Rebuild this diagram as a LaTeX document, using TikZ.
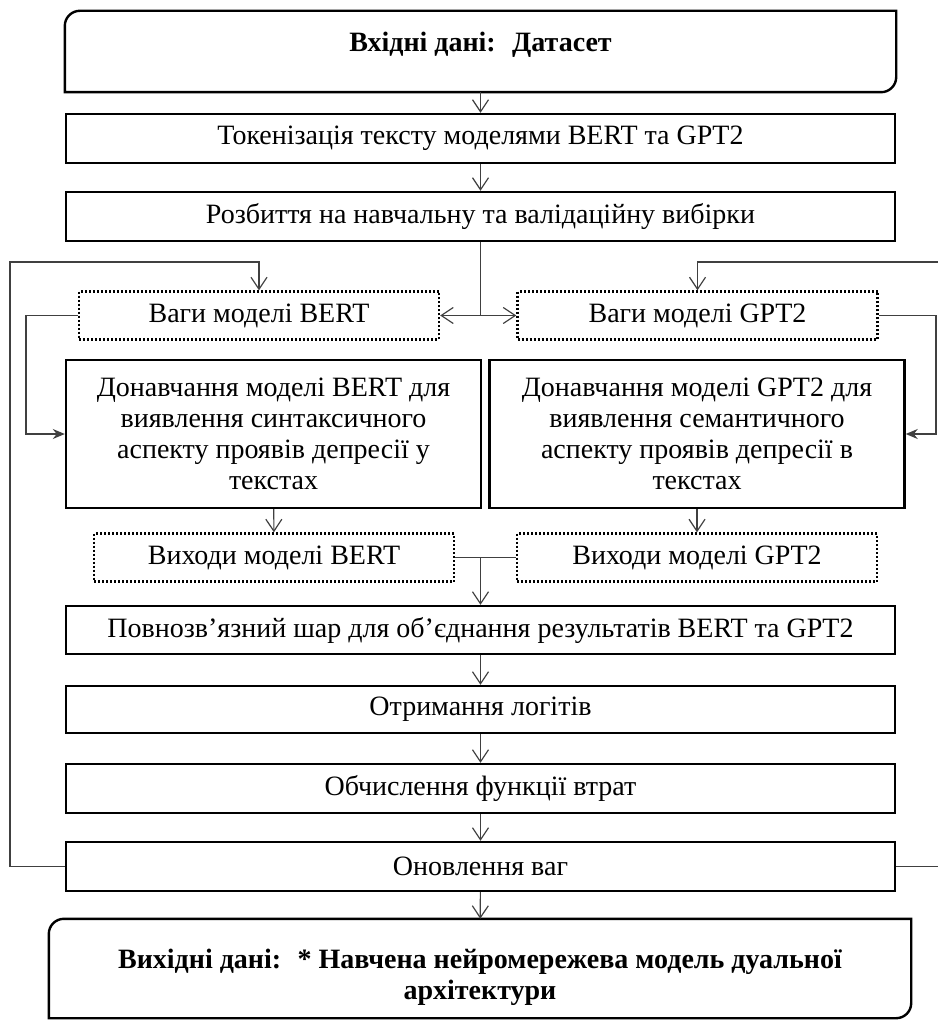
\documentclass[tikz,border=0pt]{standalone}
\usepackage{fontspec}
\setmainfont{Liberation Serif}
\usetikzlibrary{arrows.meta, positioning, calc}

\begin{document}
\begin{tikzpicture}[
    x=0.5pt, y=-0.5pt,
    blk/.style={draw=black, line width=1.2pt, inner sep=0pt, align=center,
        font=\fontsize{14}{15.5}\selectfont},
    wide/.style={blk, minimum width=414.5pt, minimum height=24.5pt},
    half/.style={blk, minimum width=180pt, minimum height=24pt},
    dblk/.style={half, dash pattern=on 1pt off 1pt},
    tune/.style={blk, minimum width=207.5pt, minimum height=74pt},
    ioblk/.style={blk, draw=none, font=\fontsize{14}{15.5}\selectfont\bfseries},
    arr/.style={-{Straight Barb[length=6pt, width=8pt]}, draw=black!75, line width=0.6pt},
    farr/.style={-{Stealth[length=6pt, width=5pt]}, draw=black!75, line width=0.6pt},
    rnd/.style={line width=1.2pt}
]
\useasboundingbox (0,0) rectangle (937,1021);
% Input block: dataset, two rounded corners
\node[ioblk, minimum width=414.5pt, minimum height=39.5pt,
      text height=9pt, text depth=9pt] (in) at (480.5,51.5) {Вхідні дані:~ Датасет};
\draw[rnd] (in.south west) -- ([yshift=-7.5pt]in.north west)
    .. controls ([yshift=-3.4pt]in.north west) and ([xshift=3.4pt]in.north west)
    .. ([xshift=7.5pt]in.north west) -- (in.north east)
    -- ([yshift=7.5pt]in.south east)
    .. controls ([yshift=3.4pt]in.south east) and ([xshift=-3.4pt]in.south east)
    .. ([xshift=-7.5pt]in.south east) -- cycle;
% Preprocessing steps
\node[wide] (tok)   at (480.5,138.5) {Токенізація тексту моделями BERT та GPT2};
\node[wide] (split) at (480.5,216.5) {Розбиття на навчальну та валідаційну вибірки};
% Two branches: weights, fine-tuning, outputs
\node[dblk] (wB) at (259,315.5)   {Ваги моделі BERT};
\node[dblk] (wG) at (697.5,315.5) {Ваги моделі GPT2};
\node[tune] (tuneB) at (273.5,434) {Донавчання моделі BERT для\\виявлення синтаксичного\\аспекту проявів депресії у\\текстах};
\node[tune] (tuneG) at (697,434)   {Донавчання моделі GPT2 для\\виявлення семантичного\\аспекту проявів депресії в\\текстах};
\node[dblk] (oB) at (274,557.5) {Виходи моделі BERT};
\node[dblk] (oG) at (697,557.5) {Виходи моделі GPT2};
% Joint head and training loop
\node[wide, minimum height=24pt]   (fc)    at (480.5,630)   {Повнозв’язний шар для об’єднання результатів BERT та GPT2};
\node[wide, minimum height=23.5pt] (logit) at (480.5,709.5) {Отримання логітів};
\node[wide] (loss)  at (480.5,788.5) {Обчислення функції втрат};
\node[wide] (upd)   at (480.5,866.5) {Оновлення ваг};
% Output block
\node[ioblk, minimum width=430pt, minimum height=48.5pt] (out) at (480,968.5)
    {\rule{0pt}{19pt}Вихідні дані:~ * Навчена нейромережева модель дуальної\\архітектури};
\draw[rnd] (out.south west) -- ([yshift=-7.5pt]out.north west)
    .. controls ([yshift=-3.4pt]out.north west) and ([xshift=3.4pt]out.north west)
    .. ([xshift=7.5pt]out.north west) -- (out.north east)
    -- ([yshift=7.5pt]out.south east)
    .. controls ([yshift=3.4pt]out.south east) and ([xshift=-3.4pt]out.south east)
    .. ([xshift=-7.5pt]out.south east) -- cycle;
% Turning points of the loops
\coordinate (loopL) at (10,262);
\coordinate (loopR) at (940,262);
\coordinate (sideL) at (26,315.5);
\coordinate (sideR) at (936,315.5);
\coordinate (mrg)   at (fc.north |- oB.east);
% Main flow
\draw[arr] (in) -- (tok);
\draw[arr] (tok) -- (split);
\draw[arr] (split.south) |- (wB.east);
\draw[arr] (split.south) |- (wG.west);
\draw[farr] (wB.west) -- (sideL) |- (tuneB.west);
\draw[farr] (wG.east) -- (sideR) |- (tuneG.east);
\draw[arr] (tuneB) -- (oB);
\draw[arr] (tuneG) -- (oG);
\draw[draw=black!75, line width=0.6pt] (oB.east) -- (mrg) -- (oG.west);
\draw[arr] (mrg) -- (fc);
\draw[arr] (fc) -- (logit);
\draw[arr] (logit) -- (loss);
\draw[arr] (loss) -- (upd);
\draw[arr] (upd) -- (out);
% Weight update feeds back into both models
\draw[arr] (upd.west) -| (loopL) -| (wB.north);
\draw[arr] (upd.east) -| (loopR) -| (wG.north);
\end{tikzpicture}
\end{document}
